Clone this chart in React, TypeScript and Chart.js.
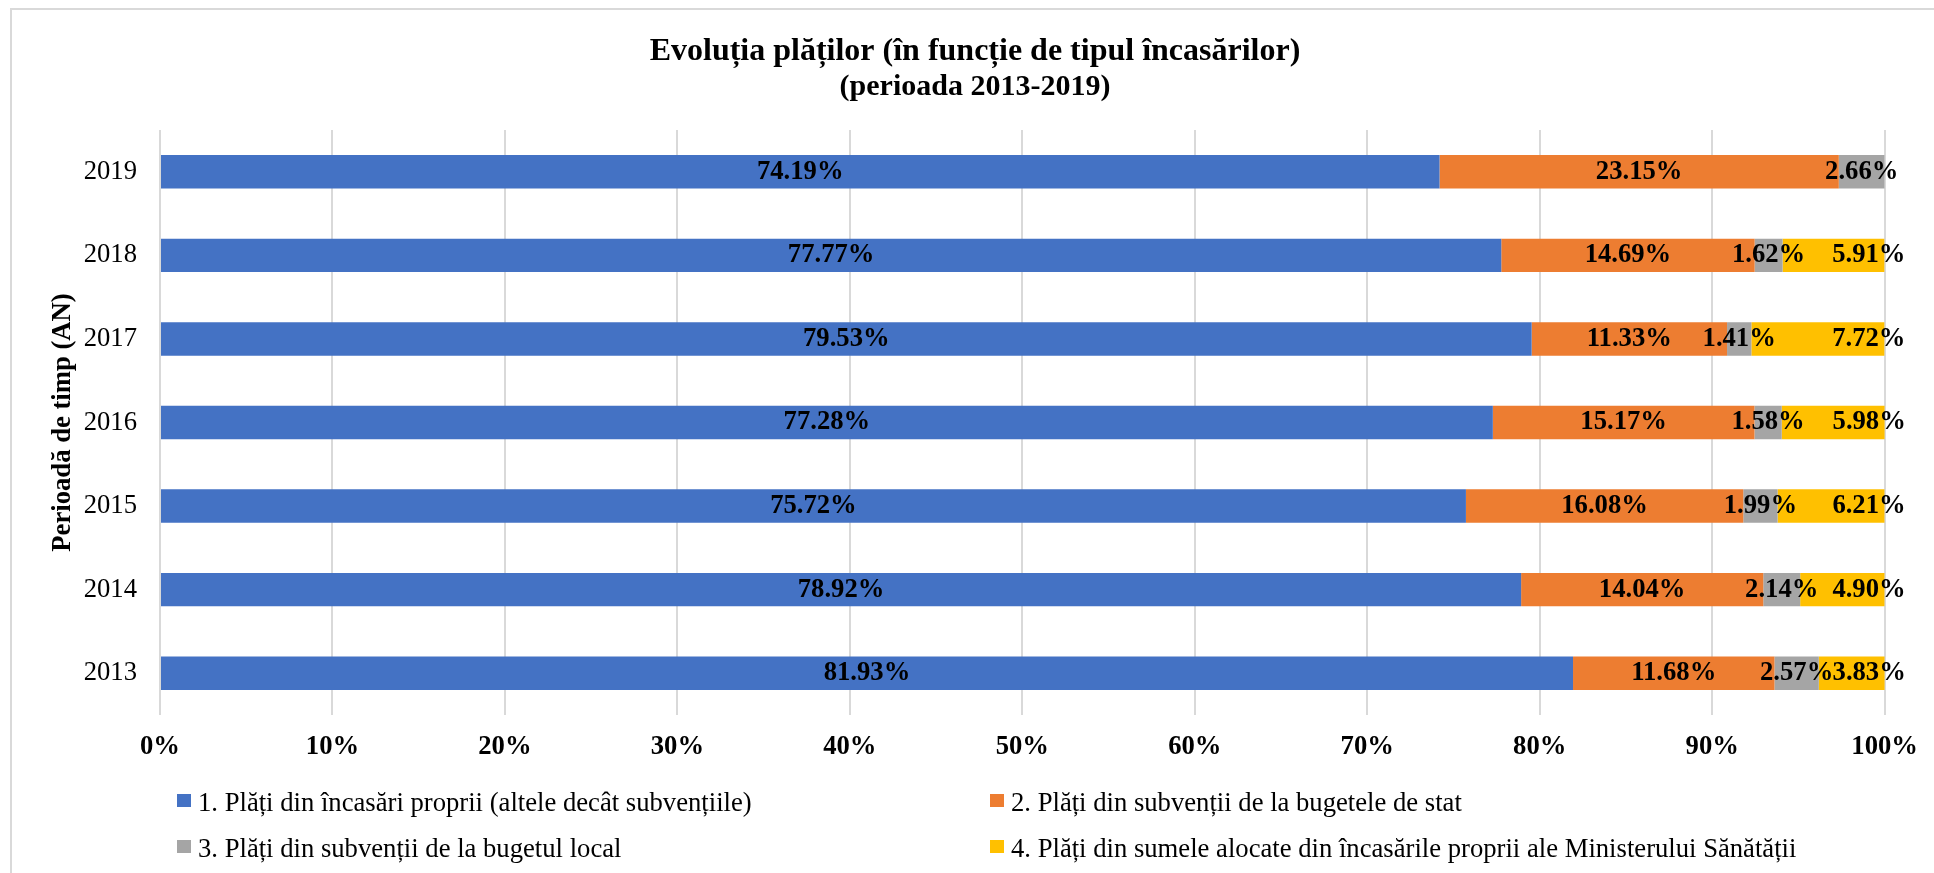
import React, { useEffect, useRef } from 'react';
import { Chart, registerables } from 'chart.js';

Chart.register(...registerables);

const FONT = '"Liberation Serif", "Times New Roman", serif';

const TITLE = 'Evoluția plăților (în funcție de tipul încasărilor)';
const SUBTITLE = '(perioada 2013-2019)';
const Y_TITLE = 'Perioadă de timp (AN)';

const years = ['2013', '2014', '2015', '2016', '2017', '2018', '2019'];

const seriesNames = [
  '1. Plăți din încasări proprii (altele decât subvențiile)',
  '2. Plăți din subvenții de la bugetele de stat',
  '3. Plăți din subvenții de la bugetul local',
  '4. Plăți din sumele alocate din încasările proprii ale Ministerului Sănătății',
];

const incasariProprii = [81.93, 78.92, 75.72, 77.28, 79.53, 77.77, 74.19];
const subventiiStat = [11.68, 14.04, 16.08, 15.17, 11.33, 14.69, 23.15];
const subventiiLocal = [2.57, 2.14, 1.99, 1.58, 1.41, 1.62, 2.66];
const sumeMinister = [3.83, 4.9, 6.21, 5.98, 7.72, 5.91, 0];

const colors = ['#4472C4', '#ED7D31', '#A5A5A5', '#FFC000'];

const xMin = 0;
const xMax = 100;
const xStep = 10;

const labelPlugin = {
  id: 'barValueLabels',
  afterDatasetsDraw(chart: any) {
    const ctx = chart.ctx;
    ctx.save();
    ctx.font = `bold 26.67px ${FONT}`;
    ctx.fillStyle = '#000';
    ctx.textBaseline = 'middle';
    chart.data.datasets.forEach((ds: any, di: number) => {
      const meta = chart.getDatasetMeta(di);
      meta.data.forEach((bar: any, i: number) => {
        const v = ds.data[i] as number;
        if (!v) return;
        const text = v.toFixed(2) + '%';
        const { x, base, y } = bar.getProps(['x', 'base', 'y'], true);
        if (di === 3) {
          ctx.textAlign = 'right';
          ctx.fillText(text, Math.max(x, base) + 21, y);
        } else {
          ctx.textAlign = 'center';
          ctx.fillText(text, (x + base) / 2, y);
        }
      });
    });
    ctx.restore();
  },
};

function ChartCanvas() {
  const ref = useRef<HTMLCanvasElement | null>(null);
  useEffect(() => {
    if (!ref.current) return;
    const seriesData = [incasariProprii, subventiiStat, subventiiLocal, sumeMinister];
    const chart = new Chart(ref.current, {
      type: 'bar',
      data: {
        labels: years,
        datasets: seriesNames.map((name, i) => ({
          label: name,
          data: seriesData[i],
          backgroundColor: colors[i],
          borderWidth: 0,
          barPercentage: 0.4,
          categoryPercentage: 1,
        })),
      },
      options: {
        animation: false,
        responsive: false,
        indexAxis: 'y',
        layout: { padding: { left: 59, right: 43, top: 0, bottom: 110 } },
        plugins: {
          legend: { display: false },
          tooltip: { enabled: false },
          title: {
            display: true,
            text: TITLE,
            color: '#000',
            font: { family: FONT, size: 32, weight: 'bold', lineHeight: 1 },
            padding: { top: 36, bottom: 0 },
          },
          subtitle: {
            display: true,
            text: SUBTITLE,
            color: '#000',
            font: { family: FONT, size: 30, weight: 'bold', lineHeight: 1 },
            padding: { top: 4, bottom: 28 },
          },
        },
        scales: {
          x: {
            stacked: true,
            min: xMin,
            max: xMax,
            ticks: {
              stepSize: xStep,
              autoSkip: false,
              maxRotation: 0,
              callback: (v: any) => v + '%',
              color: '#000',
              font: { family: FONT, size: 26.67, weight: 'bold' },
              padding: 16,
            },
            grid: { color: '#d9d9d9', lineWidth: 2, drawTicks: false },
            border: { display: false },
            afterFit: (s: any) => {
              s.height = 48;
            },
          },
          y: {
            stacked: true,
            reverse: true,
            ticks: {
              color: '#000',
              font: { family: FONT, size: 26.67 },
              padding: 23,
            },
            grid: { display: false, drawTicks: false },
            border: { display: false },
            title: {
              display: true,
              text: Y_TITLE,
              color: '#000',
              font: { family: FONT, size: 26.67, weight: 'bold' },
              padding: { top: -12, bottom: 0 },
            },
            afterFit: (s: any) => {
              s.width = 101;
            },
          },
        },
      } as any,
      plugins: [labelPlugin],
    });
    return () => chart.destroy();
  }, []);
  return <canvas ref={ref} width={1934} height={873} style={{ display: 'block', position: 'absolute', left: 0, top: 0 }} />;
}

const legendCols = [177, 990];
const legendRowTops = [794, 840];

export default function App() {
  return (
    <div
      style={{
        position: 'fixed',
        left: 0,
        top: 0,
        width: 1934,
        height: 873,
        overflow: 'hidden',
        background: '#fff',
      }}
    >
      <div
        style={{
          position: 'absolute',
          left: 10,
          top: 8,
          width: 3000,
          height: 3000,
          borderTop: '2px solid #d9d9d9',
          borderLeft: '2px solid #d9d9d9',
        }}
      />
      <ChartCanvas />
      {seriesNames.map((name, i) => {
        const left = legendCols[i % 2];
        const top = legendRowTops[Math.floor(i / 2)];
        return (
          <React.Fragment key={name}>
            <div
              style={{
                position: 'absolute',
                left,
                top,
                width: 14,
                height: 13,
                background: colors[i],
              }}
            />
            <div
              style={{
                position: 'absolute',
                left: left + 21,
                top: top - 5.3,
                fontFamily: FONT,
                fontSize: '26.67px',
                lineHeight: '26.67px',
                color: '#000',
                whiteSpace: 'nowrap',
              }}
            >
              {name}
            </div>
          </React.Fragment>
        );
      })}
    </div>
  );
}
